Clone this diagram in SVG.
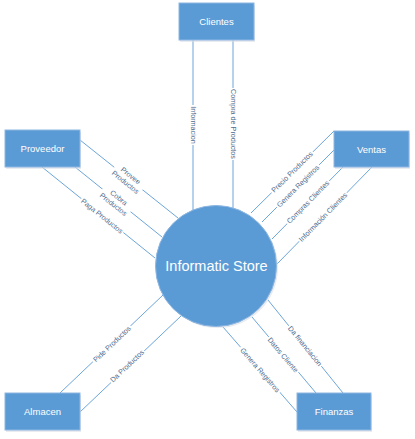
<svg xmlns="http://www.w3.org/2000/svg" width="415" height="439" viewBox="0 0 415 439">
<style>
.box{fill:#5b9bd5;stroke:#8db6e2;stroke-width:1}
.shadow{fill:#d8dde4;opacity:0.6}
.btxt{font-family:"Liberation Sans",Arial,sans-serif;font-size:9.5px;fill:#ffffff;text-anchor:middle}
.ctxt{font-family:"Liberation Sans",Arial,sans-serif;font-size:14.5px;fill:#ffffff;text-anchor:middle}
.ln{stroke:#5b9bd5;stroke-width:0.9;fill:none}
.lbg{fill:#ffffff}
.ltxt{font-family:"Liberation Sans",Arial,sans-serif;font-size:7.2px;fill:#4e6a8e;text-anchor:middle}
</style>
<rect width="415" height="439" fill="#ffffff"/>
<g id="connectors">
<line class="ln" x1="193" y1="40" x2="193" y2="210"/>
<line class="ln" x1="233" y1="40" x2="233" y2="208"/>
<line class="ln" x1="80" y1="140" x2="178" y2="218"/>
<line class="ln" x1="75" y1="167" x2="162" y2="237"/>
<line class="ln" x1="42" y1="167" x2="155" y2="258"/>
<line class="ln" x1="334" y1="131" x2="251" y2="213"/>
<line class="ln" x1="334" y1="150" x2="262" y2="222"/>
<line class="ln" x1="343" y1="167" x2="272" y2="239"/>
<line class="ln" x1="372" y1="167" x2="277" y2="264"/>
<line class="ln" x1="60" y1="393" x2="163" y2="295"/>
<line class="ln" x1="80" y1="412" x2="181" y2="316"/>
<line class="ln" x1="343" y1="393" x2="268" y2="300"/>
<line class="ln" x1="316" y1="393" x2="252" y2="317"/>
<line class="ln" x1="297" y1="412" x2="223" y2="327"/>
<g transform="translate(193,125) rotate(90)"><rect class="lbg" x="-20" y="-4" width="40" height="8"/><text class="ltxt" y="2.5">Informacion</text></g>
<g transform="translate(233,124) rotate(90)"><rect class="lbg" x="-36" y="-4" width="72" height="8"/><text class="ltxt" y="2.5">Compra de Productos</text></g>
<g transform="translate(128,179) rotate(38.7)"><rect class="lbg" x="-18" y="-9" width="36" height="18"/><text class="ltxt" y="-1.8">Provee</text><text class="ltxt" y="6.7">Productos</text></g>
<g transform="translate(116,201) rotate(38.5)"><rect class="lbg" x="-18" y="-9" width="36" height="18"/><text class="ltxt" y="-1.8">Cobra</text><text class="ltxt" y="6.7">Productos</text></g>
<g transform="translate(102,216) rotate(38.5)"><rect class="lbg" x="-27" y="-4" width="54" height="8"/><text class="ltxt" y="2.5">Paga Productos</text></g>
<g transform="translate(292,172) rotate(-44.7)"><rect class="lbg" x="-29" y="-4" width="58" height="8"/><text class="ltxt" y="2.5">Precio Productos</text></g>
<g transform="translate(298,186) rotate(-45)"><rect class="lbg" x="-30" y="-4" width="60" height="8"/><text class="ltxt" y="2.5">Genera Registros</text></g>
<g transform="translate(308,202) rotate(-45.4)"><rect class="lbg" x="-30" y="-4" width="60" height="8"/><text class="ltxt" y="2.5">Compras Clientes</text></g>
<g transform="translate(323,217) rotate(-45.6)"><rect class="lbg" x="-34" y="-4" width="68" height="8"/><text class="ltxt" y="2.5">Información Clientes</text></g>
<g transform="translate(112,344) rotate(-43.6)"><rect class="lbg" x="-26" y="-4" width="52" height="8"/><text class="ltxt" y="2.5">Pide Productos</text></g>
<g transform="translate(127,366) rotate(-43.5)"><rect class="lbg" x="-23" y="-4" width="46" height="8"/><text class="ltxt" y="2.5">Da Productos</text></g>
<g transform="translate(305,346) rotate(51.1)"><rect class="lbg" x="-26" y="-4" width="52" height="8"/><text class="ltxt" y="2.5">Da financiacion</text></g>
<g transform="translate(283,355) rotate(49.9)"><rect class="lbg" x="-23" y="-4" width="46" height="8"/><text class="ltxt" y="2.5">Datos Cliente</text></g>
<g transform="translate(260,370) rotate(49)"><rect class="lbg" x="-30" y="-4" width="60" height="8"/><text class="ltxt" y="2.5">Genera Registros</text></g>
</g>
<g id="informatic-store">
<circle cx="217.5" cy="267.5" r="60.5" class="shadow"/>
<circle cx="216" cy="266" r="60.5" class="box"/>
<text class="ctxt" x="216.5" y="271">Informatic Store</text>
</g>
<g id="clientes">
<rect class="shadow" x="180" y="5" width="75" height="37"/>
<rect class="box" x="179" y="3" width="75" height="37"/>
<text class="btxt" x="216.5" y="25">Clientes</text>
</g>
<g id="proveedor">
<rect class="shadow" x="6" y="132" width="75" height="37"/>
<rect class="box" x="5" y="130" width="75" height="37"/>
<text class="btxt" x="42.5" y="152">Proveedor</text>
</g>
<g id="ventas">
<rect class="shadow" x="335" y="133" width="75" height="36"/>
<rect class="box" x="334" y="131" width="75" height="36"/>
<text class="btxt" x="371.5" y="152.5">Ventas</text>
</g>
<g id="almacen">
<rect class="shadow" x="6" y="395" width="75" height="37"/>
<rect class="box" x="5" y="393" width="75" height="37"/>
<text class="btxt" x="42.5" y="415">Almacen</text>
</g>
<g id="finanzas">
<rect class="shadow" x="298" y="395" width="74" height="37"/>
<rect class="box" x="297" y="393" width="74" height="37"/>
<text class="btxt" x="334" y="415">Finanzas</text>
</g>
</svg>
